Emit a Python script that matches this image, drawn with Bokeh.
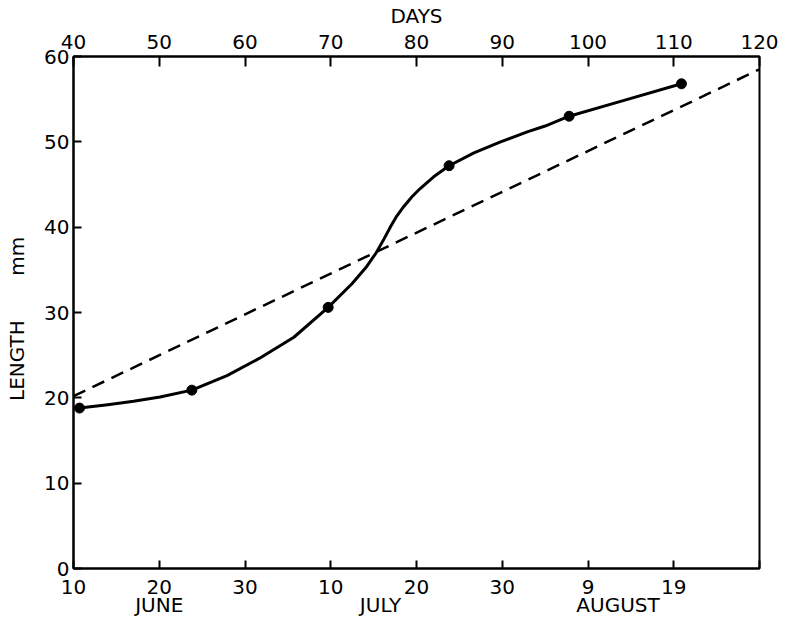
from bokeh.plotting import figure
from bokeh.models import LinearAxis, FixedTicker, Range1d
from bokeh.embed import file_html
from bokeh.resources import INLINE

# ---- data ----
day_ticks = [40, 50, 60, 70, 80, 90, 100, 110, 120]
day_labels = ["40", "50", "60", "70", "80", "90", "100", "110", "120"]
date_labels = ["10", "20", "30", "10", "20", "30", "9", "19", ""]
month_pos = [50, 75.8, 103.5]
month_names = ["JUNE", "JULY", "AUGUST"]
length_ticks = [0, 10, 20, 30, 40, 50, 60]

obs_day = [40.7, 53.8, 69.7, 83.8, 97.8, 110.9]
obs_len = [18.8, 20.9, 30.6, 47.2, 53.0, 56.8]

# hand-drawn smooth curve
curve_day = [40.7, 44.0, 47.0, 50.1, 53.8, 57.9, 61.8, 65.7, 69.7, 72.5,
             74.2, 75.3, 76.2, 77.0, 77.7, 78.5, 79.5, 80.4, 82.0, 83.8,
             86.7, 89.8, 93.0, 95.0, 97.8, 104.0, 110.9]
curve_len = [18.8, 19.2, 19.6, 20.1, 20.9, 22.6, 24.7, 27.1, 30.6, 33.4,
             35.4, 37.0, 38.6, 40.1, 41.3, 42.4, 43.6, 44.5, 45.9, 47.2,
             48.7, 50.0, 51.2, 51.85, 53.0, 54.8, 56.8]

trend_day = [40, 120]
trend_len = [20.2, 58.5]

FONT = "DejaVu Sans"
FS = "20px"
NB = "\u00a0"

p = figure(width=780, height=620, x_range=Range1d(40, 120), y_range=Range1d(0, 60),
           x_axis_type=None, y_axis_type=None,
           output_backend="svg", toolbar_location=None,
           min_border_left=73, min_border_right=21, min_border_top=55, min_border_bottom=52)
p.outline_line_color = "black"
p.outline_line_width = 2
p.background_fill_color = "white"
p.border_fill_color = "white"


def style(ax, tick_in=8):
    ax.major_tick_in = tick_in
    ax.major_tick_out = 0
    ax.minor_tick_line_color = None
    ax.axis_line_width = 2
    ax.major_tick_line_width = 2
    ax.major_label_text_font = FONT
    ax.major_label_text_font_size = FS
    ax.major_label_text_color = "black"
    ax.axis_label_text_font = FONT
    ax.axis_label_text_font_size = FS
    ax.axis_label_text_font_style = "normal"
    ax.axis_label_text_color = "black"


left = LinearAxis(ticker=FixedTicker(ticks=length_ticks),
                  axis_label="LENGTH" + NB * 7 + "mm" + NB * 2)
style(left, 8)
left.major_label_standoff = 4
left.axis_label_standoff = 12
p.add_layout(left, "left")

top = LinearAxis(ticker=FixedTicker(ticks=day_ticks), axis_label="DAYS")
style(top, 10)
top.major_label_standoff = 8
top.axis_label_standoff = 4
top.major_label_overrides = dict(zip(day_ticks, day_labels))
p.add_layout(top, "above")

bottom = LinearAxis(ticker=FixedTicker(ticks=day_ticks))
style(bottom, 8)
bottom.major_label_standoff = 11
bottom.major_label_overrides = dict(zip(day_ticks, date_labels))
p.add_layout(bottom, "below")

months = LinearAxis(ticker=FixedTicker(ticks=month_pos))
style(months, 0)
months.axis_line_color = None
months.major_tick_line_color = None
months.major_label_standoff = -4
months.major_label_overrides = dict(zip(month_pos, month_names))
p.add_layout(months, "below")

p.line(trend_day, trend_len, line_color="black", line_width=2.5, line_dash="13 8")
p.line(curve_day, curve_len, line_color="black", line_width=3, line_join="round")
p.scatter(obs_day, obs_len, size=10, color="black")

open("out.html", "w").write(file_html(p, INLINE))
